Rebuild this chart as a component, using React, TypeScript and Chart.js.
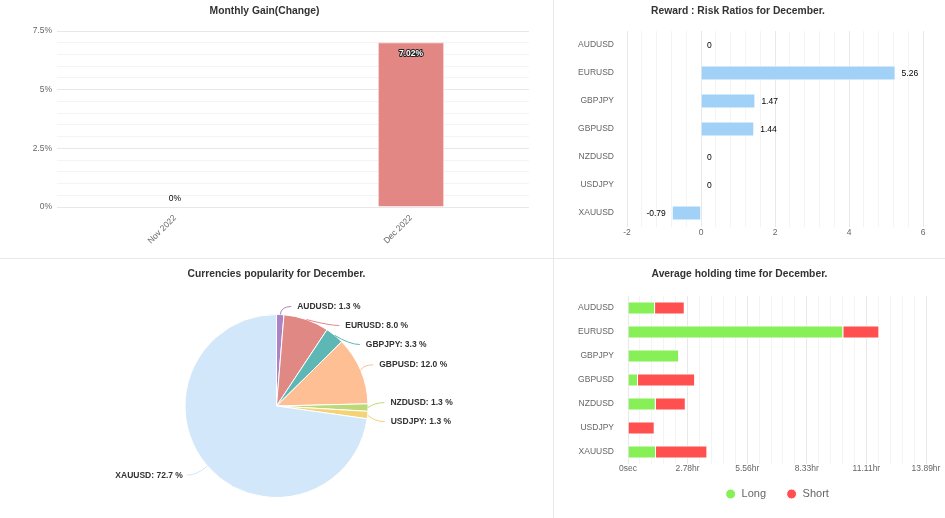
import React, { useEffect, useRef } from 'react';
import { Chart, registerables } from 'chart.js';

Chart.register(...registerables);

const FONT = '"Liberation Sans", Arial, Helvetica, sans-serif';

// ---- Monthly gain ----
const gainMonths = ['Nov 2022', 'Dec 2022'];
const gainValues = [0, 7.02];

// ---- Reward : Risk ----
const rrPairs = ['AUDUSD', 'EURUSD', 'GBPJPY', 'GBPUSD', 'NZDUSD', 'USDJPY', 'XAUUSD'];
const rrValues = [0, 5.26, 1.47, 1.44, 0, 0, -0.79];

// ---- Currencies popularity ----
const popPairs = ['AUDUSD', 'EURUSD', 'GBPJPY', 'GBPUSD', 'NZDUSD', 'USDJPY', 'XAUUSD'];
const popShares = [1.3, 8.0, 3.3, 12.0, 1.3, 1.3, 72.7];
const popColors = ['#ab83c4', '#e08884', '#5db7b4', '#ffbf95', '#bcd977', '#f5d275', '#d2e7f9'];

// ---- Average holding time (seconds) ----
const holdPairs = ['AUDUSD', 'EURUSD', 'GBPJPY', 'GBPUSD', 'NZDUSD', 'USDJPY', 'XAUUSD'];
const holdLongSec = [4540, 36120, 8570, 1680, 4650, 0, 4700];
const holdShortSec = [4980, 6050, 0, 9580, 5040, 4480, 8620];

const isMultiple = (v: number, step: number) => Math.abs(v / step - Math.round(v / step)) < 1e-6;

const tickFont = { family: FONT, size: 8.5 };
const titleOpt = (text: string, top: number, bottom: number) => ({
  display: true,
  text,
  color: '#333',
  font: { family: FONT, size: 10.3, weight: 'bold' as const },
  padding: { top, bottom },
});
const gridColor = (step: number) => (c: any) => {
  const v = c.tick ? c.tick.value : undefined;
  if (v === undefined) return 'rgba(0,0,0,0)';
  return isMultiple(v, step) ? '#e8e8e8' : '#f4f4f4';
};

const gainLabelPlugin = {
  id: 'gainLabels',
  afterDatasetsDraw(chart: any) {
    const ctx = chart.ctx;
    const meta = chart.getDatasetMeta(0);
    const data = chart.data.datasets[0].data as number[];
    ctx.save();
    ctx.textAlign = 'center';
    ctx.textBaseline = 'middle';
    ctx.lineJoin = 'round';
    meta.data.forEach((el: any, i: number) => {
      const v = data[i];
      const text = `${v}%`;
      if (v > 0) {
        const y = el.y + 11;
        ctx.font = `bold 8.5px ${FONT}`;
        ctx.lineWidth = 2;
        ctx.strokeStyle = '#222';
        ctx.strokeText(text, el.x, y);
        ctx.fillStyle = '#fff';
        ctx.fillText(text, el.x, y);
      } else {
        const y = el.y - 8;
        ctx.font = `8.5px ${FONT}`;
        ctx.lineWidth = 2;
        ctx.strokeStyle = '#fff';
        ctx.strokeText(text, el.x, y);
        ctx.fillStyle = '#000';
        ctx.fillText(text, el.x, y);
      }
    });
    ctx.restore();
  },
};

const rrLabelPlugin = {
  id: 'rrLabels',
  afterDatasetsDraw(chart: any) {
    const ctx = chart.ctx;
    const meta = chart.getDatasetMeta(0);
    const data = chart.data.datasets[0].data as number[];
    ctx.save();
    ctx.font = `8.5px ${FONT}`;
    ctx.textBaseline = 'middle';
    ctx.fillStyle = '#000';
    meta.data.forEach((el: any, i: number) => {
      const v = data[i];
      const text = String(v);
      if (v >= 0) {
        ctx.textAlign = 'left';
        ctx.fillText(text, el.x + 6, el.y + 1);
      } else {
        ctx.textAlign = 'right';
        ctx.fillText(text, el.x - 6, el.y + 1);
      }
    });
    ctx.restore();
  },
};

const pieLabelPlugin = {
  id: 'pieLabels',
  afterDatasetsDraw(chart: any) {
    const ctx = chart.ctx;
    const meta = chart.getDatasetMeta(0);
    if (!meta.data.length) return;
    const labels = chart.data.labels as string[];
    const data = chart.data.datasets[0].data as number[];
    const colors = chart.data.datasets[0].backgroundColor as string[];
    const a0 = meta.data[0];
    const cx = a0.x, cy = a0.y, r = a0.outerRadius;
    const Rn = r + 14, Rx = r + 17, spacing = 19;
    const minY = cy - r - 8;
    const items = meta.data.map((arc: any, i: number) => {
      const mid = (arc.startAngle + arc.endAngle) / 2;
      return { i, mid, right: Math.cos(mid) >= 0, t: cy + Rn * Math.sin(mid), y: 0 };
    });
    for (const side of [true, false]) {
      const list = items.filter((it: any) => it.right === side).sort((a: any, b: any) => a.t - b.t);
      if (!list.length) continue;
      let clusters = list.map((it: any) => ({ members: [it], sum: it.t, start: it.t }));
      let merged = true;
      while (merged) {
        merged = false;
        for (let k = 0; k < clusters.length - 1; k++) {
          const a = clusters[k], b = clusters[k + 1];
          if (a.start + a.members.length * spacing > b.start) {
            const members = a.members.concat(b.members);
            const sum = a.sum + b.sum;
            const n = members.length;
            clusters.splice(k, 2, { members, sum, start: sum / n - ((n - 1) * spacing) / 2 });
            merged = true;
            break;
          }
        }
      }
      const ordered: any[] = [];
      clusters.forEach((c: any) => c.members.forEach((m: any, j: number) => { m.y = c.start + j * spacing; ordered.push(m); }));
      for (let j = 0; j < ordered.length; j++) {
        const lo = j === 0 ? minY : ordered[j - 1].y + spacing;
        if (ordered[j].y < lo) ordered[j].y = lo;
      }
    }
    ctx.save();
    ctx.font = `bold 8.5px ${FONT}`;
    ctx.textBaseline = 'middle';
    items.forEach((it: any) => {
      const dir = it.right ? 1 : -1;
      const dy = it.y - cy - 8;
      const xEnd = cx + dir * Math.sqrt(Math.max(0, Rx * Rx - dy * dy));
      const p0x = cx + r * Math.cos(it.mid), p0y = cy + r * Math.sin(it.mid);
      let ctrlX = xEnd - dir * 10;
      if (dir > 0 && ctrlX < p0x) ctrlX = p0x;
      if (dir < 0 && ctrlX > p0x) ctrlX = p0x;
      ctx.beginPath();
      ctx.moveTo(p0x, p0y);
      ctx.quadraticCurveTo(ctrlX, it.y, xEnd, it.y);
      ctx.strokeStyle = colors[it.i];
      ctx.lineWidth = 1;
      ctx.stroke();
      ctx.fillStyle = '#333';
      ctx.textAlign = it.right ? 'left' : 'right';
      ctx.fillText(`${labels[it.i]}: ${data[it.i].toFixed(1)} %`, xEnd + dir * (it.right ? 6 : 4), it.y);
    });
    ctx.restore();
  },
};

function makeGain(canvas: HTMLCanvasElement) {
  return new Chart(canvas, {
    type: 'bar',
    data: {
      labels: gainMonths,
      datasets: [{
        data: gainValues,
        backgroundColor: '#e28784',
        borderColor: '#f6d3d2',
        borderWidth: 1,
        barPercentage: 0.28,
        categoryPercentage: 1,
      }],
    },
    options: {
      responsive: false,
      animation: false,
      layout: { padding: { left: 0, right: 24, top: 0, bottom: 0 } },
      plugins: {
        legend: { display: false },
        tooltip: { enabled: false },
        title: titleOpt('Monthly Gain(Change)', 5, 13.64),
      },
      scales: {
        x: {
          grid: { display: false, drawTicks: false },
          border: { display: false },
          ticks: { color: '#666', font: tickFont, minRotation: 45, maxRotation: 45, padding: 6 },
          afterFit: (s: any) => { s.height = 51; },
        },
        y: {
          min: 0,
          max: 7.5,
          grid: { color: gridColor(2.5), drawTicks: false },
          border: { display: false },
          ticks: {
            stepSize: 0.5,
            autoSkip: false,
            padding: 5,
            color: '#666',
            font: tickFont,
            callback: (v: any) => (isMultiple(Number(v), 2.5) ? `${v}%` : ''),
          },
          afterFit: (s: any) => { s.width = 57; },
        },
      },
    } as any,
    plugins: [gainLabelPlugin],
  });
}

function makeRR(canvas: HTMLCanvasElement) {
  return new Chart(canvas, {
    type: 'bar',
    data: {
      labels: rrPairs,
      datasets: [{
        data: rrValues,
        backgroundColor: '#a1d1f7',
        borderColor: '#ffffff',
        borderWidth: 1,
        barPercentage: 0.54,
        categoryPercentage: 1,
      }],
    },
    options: {
      indexAxis: 'y',
      responsive: false,
      animation: false,
      layout: { padding: { left: 0, right: 22, top: 0, bottom: 0 } },
      plugins: {
        legend: { display: false },
        tooltip: { enabled: false },
        title: titleOpt('Reward : Risk Ratios for December.', 5, 13.64),
      },
      scales: {
        x: {
          min: -2,
          max: 6,
          grid: { color: gridColor(2), drawTicks: false },
          border: { display: false },
          ticks: {
            stepSize: 0.4,
            autoSkip: false,
            maxRotation: 0,
            minRotation: 0,
            padding: 1,
            color: '#666',
            font: tickFont,
            callback: (v: any) => (isMultiple(Number(v), 2) ? String(Math.round(Number(v))) : ''),
          },
          afterFit: (s: any) => { s.height = 31; },
        },
        y: {
          grid: { display: false, drawTicks: false },
          border: { display: false },
          ticks: { padding: 13, color: '#666', font: tickFont },
          afterFit: (s: any) => { s.width = 74; },
        },
      },
    } as any,
    plugins: [rrLabelPlugin],
  });
}

function makePie(canvas: HTMLCanvasElement) {
  return new Chart(canvas, {
    type: 'pie',
    data: {
      labels: popPairs,
      datasets: [{
        data: popShares,
        backgroundColor: popColors,
        borderColor: '#ffffff',
        borderWidth: 1,
      }],
    },
    options: {
      responsive: false,
      animation: false,
      layout: { padding: { left: 0, right: 0, top: 0, bottom: 20 } },
      plugins: {
        legend: { display: false },
        tooltip: { enabled: false },
        title: titleOpt('Currencies popularity for December.', 9, 33.64),
      },
    } as any,
    plugins: [pieLabelPlugin],
  });
}

function makeHold(canvas: HTMLCanvasElement) {
  return new Chart(canvas, {
    type: 'bar',
    data: {
      labels: holdPairs,
      datasets: [
        {
          label: 'Long',
          data: holdLongSec,
          backgroundColor: '#86f056',
          borderColor: '#ffffff',
          borderWidth: 1,
          barPercentage: 0.54,
          categoryPercentage: 1,
        },
        {
          label: 'Short',
          data: holdShortSec,
          backgroundColor: '#ff4f4f',
          borderColor: '#ffffff',
          borderWidth: 1,
          barPercentage: 0.54,
          categoryPercentage: 1,
        },
      ],
    },
    options: {
      indexAxis: 'y',
      responsive: false,
      animation: false,
      layout: { padding: { left: 0, right: 19, top: 0, bottom: 8.5 } },
      plugins: {
        tooltip: { enabled: false },
        title: titleOpt('Average holding time for December.', 9, 15.64),
        legend: {
          display: true,
          position: 'bottom',
          fullSize: false,
          labels: {
            usePointStyle: true,
            pointStyle: 'circle',
            boxWidth: 11,
            boxHeight: 7,
            padding: 20,
            color: '#666',
            font: { family: FONT, size: 11 },
          },
        },
      },
      scales: {
        x: {
          stacked: true,
          min: 0,
          max: 50000,
          grid: { color: gridColor(10000), drawTicks: false },
          border: { display: false },
          ticks: {
            stepSize: 2000,
            autoSkip: false,
            maxRotation: 0,
            minRotation: 0,
            mirror: true,
            padding: -10,
            color: '#666',
            font: tickFont,
            callback: (v: any) => {
              const n = Number(v);
              if (n === 0) return '0sec';
              return isMultiple(n, 10000) ? `${(n / 3600).toFixed(2)}hr` : '';
            },
          },
          afterFit: (s: any) => { s.height = 4.5; },
        },
        y: {
          stacked: true,
          grid: { display: false, drawTicks: false },
          border: { display: false },
          ticks: { padding: 14, color: '#666', font: tickFont },
          afterFit: (s: any) => { s.width = 75; },
        },
      },
    } as any,
  });
}

type PanelProps = {
  left: number;
  top: number;
  width: number;
  height: number;
  make: (c: HTMLCanvasElement) => Chart;
};

function Panel({ left, top, width, height, make }: PanelProps) {
  const ref = useRef<HTMLCanvasElement>(null);
  useEffect(() => {
    if (!ref.current) return;
    const chart = make(ref.current);
    return () => chart.destroy();
  }, []);
  return (
    <canvas
      ref={ref}
      width={width}
      height={height}
      style={{ position: 'absolute', left, top, width, height, display: 'block' }}
    />
  );
}

export default function App() {
  return (
    <div style={{ position: 'absolute', left: 0, top: 0, width: 945, height: 518, background: '#fff', overflow: 'hidden' }}>
      <Panel left={0} top={0} width={553} height={258} make={makeGain} />
      <Panel left={553} top={0} width={392} height={258} make={makeRR} />
      <Panel left={0} top={259} width={553} height={259} make={makePie} />
      <Panel left={553} top={259} width={392} height={259} make={makeHold} />
      <div style={{ position: 'absolute', left: 553, top: 0, width: 1, height: 518, background: '#e8e8e8' }} />
      <div style={{ position: 'absolute', left: 0, top: 258, width: 945, height: 1, background: '#e8e8e8' }} />
    </div>
  );
}
